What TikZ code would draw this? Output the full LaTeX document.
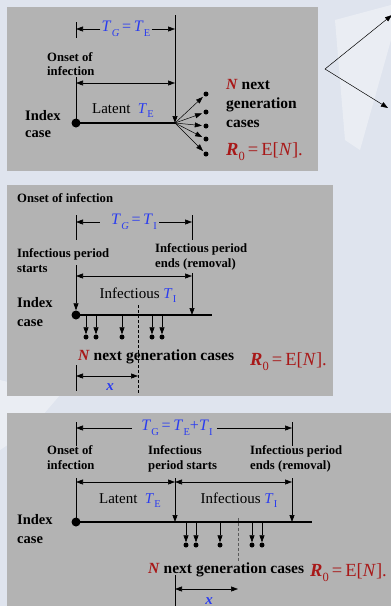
\documentclass[tikz,border=0pt]{standalone}
\usepackage{fontspec}
\setmainfont{Liberation Serif}
\usetikzlibrary{arrows.meta}
\definecolor{bgc}{HTML}{DFE4EE}
\definecolor{panelc}{HTML}{B3B3B3}
\definecolor{tblue}{HTML}{2A3CF0}
\definecolor{dred}{HTML}{A81818}
\newcommand\TT[1]{\textit{T}\kern0.3pt\raisebox{-0.28em}{\fontsize{10.5}{10.5}\selectfont #1}}
\newcommand\Rnull{\textcolor{dred}{\textbf{\textit{R}}\raisebox{-0.3em}{\fontsize{12.5}{12.5}\selectfont 0}\,=\,E[\textit{N}].}}
\newcommand\Nnext{\textcolor{dred}{\textit{N}}}
\begin{document}
\begin{tikzpicture}[x=1pt,y=-1pt,
  lbl/.style={font=\fontsize{12.7}{13}\selectfont\bfseries, inner sep=0pt, anchor=base west},
  idx/.style={font=\fontsize{14.5}{16}\selectfont\bfseries, inner sep=0pt, anchor=base west},
  nxt/.style={font=\fontsize{15.5}{16}\selectfont\bfseries, inner sep=0pt, anchor=base west},
  reg/.style={font=\fontsize{15}{16}\selectfont, inner sep=0pt, anchor=base},
  tg/.style={font=\fontsize{16}{17}\selectfont, text=tblue, inner sep=0pt},
  rr/.style={font=\fontsize{18.5}{19}\selectfont, inner sep=0pt, anchor=base west},
  xl/.style={font=\fontsize{15}{16}\selectfont\bfseries\itshape, text=tblue, inner sep=0pt, anchor=base},
  dim/.style={{Triangle[length=7pt,width=5pt]}-{Triangle[length=7pt,width=5pt]}, line width=0.6pt},
  half/.style={-{Triangle[length=7pt,width=5pt]}, line width=0.6pt},
  vline/.style={line width=0.7pt},
  varr/.style={-{Triangle[length=7pt,width=5pt]}, line width=0.7pt},
  tline/.style={line width=2pt},
  sdot/.style={circle, fill=black, inner sep=0pt, minimum size=5pt},
  bdot/.style={circle, fill=black, inner sep=0pt, minimum size=9pt},
  dash1/.style={line width=0.6pt, dash pattern=on 3pt off 2pt}
]
\useasboundingbox (0,0) rectangle (391,606);
\clip (0,0) rectangle (391,606);
\fill[bgc] (0,0) rectangle (391,606);
\fill[white, opacity=0.35] (335,20) -- (391,5) -- (391,40) -- (360,150) -- (345,140) -- cycle;
\fill[white, opacity=0.35] (0,380) -- (60,395) -- (30,430) -- (0,450) -- cycle;

% ===== Panel 1 =====
\fill[panelc] (7,7) rectangle (318,171);
\coordinate (p1a) at (76,22); \coordinate (p1b) at (76,38);
\draw[vline] (p1a) -- (p1b);
\coordinate (p1c) at (76,77);
\node[bdot] (I1) at (76,123) {};
\draw[vline] (p1c) -- (I1.center);
\coordinate (q1a) at (175,15); \coordinate (q1b) at (175,123);
\draw[tline] (I1.center) -- (q1b);
\draw[varr] (q1a) -- (q1b);
\node[tg] (TG1) at (126,29) {\TT{\textit{G}}\,=\,\TT{E}};
\coordinate (d1l) at (76,29); \coordinate (d1r) at (175,29);
\draw[half] ([xshift=-1pt]TG1.west |- d1l) -- (d1l);
\draw[half] ([xshift=1pt]TG1.east |- d1r) -- (d1r);
\coordinate (e1l) at (76,83); \coordinate (e1r) at (175,83);
\draw[dim] (e1l) -- (e1r);
\node[reg] (lat1) at (123,113) {Latent\ \ \textcolor{tblue}{\TT{E}}};
\node[lbl] (on1a) at (47,61) {Onset of};
\node[lbl] (on1b) at (47,75) {infection};
\node[idx] (ix1a) at (25,120) {Index};
\node[idx] (ix1b) at (25,137) {case};
\foreach \i/\yy in {1/94,2/112,3/126,4/139,5/154}{
  \node[sdot] (f\i) at (206,\yy) {};
  \draw[varr, line width=0.5pt, shorten >=1.5pt] (q1b) -- (f\i);
}
\node[nxt] (n1a) at (226,89) {\Nnext\ next};
\node[nxt] (n1b) at (226,108) {generation};
\node[nxt] (n1c) at (226,127) {cases};
\node[rr] (r1) at (226,155) {\Rnull};
% side arrows
\coordinate (v0) at (325,69); \coordinate (v1) at (392,15); \coordinate (v2) at (388,108);
\draw[varr, line width=0.5pt] (v0) -- (v1);
\draw[varr, line width=0.5pt] (v0) -- (v2);

% ===== Panel 2 =====
\fill[panelc] (7,185) rectangle (333,396);
\node[lbl] (on2) at (17,202) {Onset of infection};
\coordinate (p2a) at (76,215); \coordinate (p2b) at (76,240);
\coordinate (q2a) at (192,215); \coordinate (q2b) at (192,240);
\draw[vline] (p2a) -- (p2b);
\draw[vline] (q2a) -- (q2b);
\node[tg] (TG2) at (134,222) {\TT{\textit{G}}\,=\,\TT{I}};
\coordinate (d2l) at (76,222); \coordinate (d2r) at (192,222);
\draw[half] ([xshift=-11pt]TG2.west |- d2l) -- (d2l);
\draw[half] ([xshift=2pt]TG2.east |- d2r) -- (d2r);
\node[lbl] (st2a) at (17,257) {Infectious period};
\node[lbl] (st2b) at (17,272) {starts};
\node[lbl] (en2a) at (155,252) {Infectious period};
\node[lbl] (en2b) at (155,267) {ends (removal)};
\node[bdot] (I2) at (76,315) {};
\coordinate (p2c) at (76,265);
\draw[varr] (p2c) -- (I2);
\coordinate (q2c) at (192,273); \coordinate (q2d) at (192,315);
\coordinate (t2e) at (212,315);
\draw[tline] (I2.center) -- (t2e);
\draw[varr] (q2c) -- (q2d);
\coordinate (e2l) at (76,276); \coordinate (e2r) at (192,276);
\draw[dim] (e2l) -- (e2r);
\node[reg] (inf2) at (138,298) {Infectious \textcolor{tblue}{\TT{I}}};
\coordinate (x2a) at (138,305); \coordinate (x2b) at (138,393);
\draw[dash1] (x2a) -- (x2b);
\node[idx] (ix2a) at (17,307) {Index};
\node[idx] (ix2b) at (17,326) {case};
\foreach \i/\xx in {1/86,2/96,3/122,4/152,5/162}{
  \coordinate (g\i) at (\xx,315);
  \node[sdot] (h\i) at (\xx,337) {};
  \draw[varr, line width=0.6pt] (g\i) -- (h\i);
}
\node[nxt] (n2) at (78,360) {\Nnext\ next generation cases};
\node[rr] (r2) at (250,365) {\Rnull};
\coordinate (k2a) at (76,365); \coordinate (k2b) at (76,391);
\draw[vline] (k2a) -- (k2b);
\coordinate (m2l) at (76,376); \coordinate (m2r) at (138,376);
\draw[dim] (m2l) -- (m2r);
\node[xl] (x2) at (110,390) {x};

% ===== Panel 3 =====
\fill[panelc] (7,413) rectangle (391,606);
\coordinate (p3a) at (76,422); \coordinate (p3b) at (76,446);
\coordinate (q3a) at (292,422); \coordinate (q3b) at (292,446);
\draw[vline] (p3a) -- (p3b);
\draw[vline] (q3a) -- (q3b);
\node[tg] (TG3) at (177,428) {\TT{G}\,=\,\TT{E}+\TT{I}};
\coordinate (d3l) at (76,428); \coordinate (d3r) at (292,428);
\draw[half] ([xshift=-9pt]TG3.west |- d3l) -- (d3l);
\draw[half] ([xshift=4pt]TG3.east |- d3r) -- (d3r);
\node[lbl] (on3a) at (47,454) {Onset of};
\node[lbl] (on3b) at (47,469) {infection};
\node[lbl] (st3a) at (148,454) {Infectious};
\node[lbl] (st3b) at (148,469) {period starts};
\node[lbl] (en3a) at (250,454) {Infectious period};
\node[lbl] (en3b) at (250,469) {ends (removal)};
\node[bdot] (I3) at (76,522) {};
\coordinate (p3c) at (76,478);
\coordinate (s3a) at (175,478); \coordinate (s3b) at (175,522);
\coordinate (q3c) at (292,478); \coordinate (q3d) at (292,522);
\coordinate (t3e) at (312,522);
\draw[tline] (I3.center) -- (t3e);
\draw[vline] (p3c) -- (I3.center);
\draw[varr] (s3a) -- (s3b);
\draw[varr] (q3c) -- (q3d);
\coordinate (e3l) at (76,482); \coordinate (e3m) at (175,482); \coordinate (e3r) at (292,482);
\draw[dim] (e3l) -- (e3m);
\draw[dim] (e3m) -- (e3r);
\node[reg] (lat3) at (130,503) {Latent\ \ \textcolor{tblue}{\TT{E}}};
\node[reg] (inf3) at (239,503) {Infectious \textcolor{tblue}{\TT{I}}};
\node[idx] (ix3a) at (17,524) {Index};
\node[idx] (ix3b) at (17,543) {case};
\coordinate (x3a) at (238,518); \coordinate (x3b) at (238,563);
\draw[dash1, draw=gray!70!black] (x3a) -- (x3b);
\foreach \i/\xx in {1/186,2/196,3/220,4/252,5/262}{
  \coordinate (u\i) at (\xx,522);
  \node[sdot] (w\i) at (\xx,545) {};
  \draw[varr, line width=0.6pt] (u\i) -- (w\i);
}
\node[nxt] (n3) at (148,573) {\Nnext\ next generation cases};
\node[rr] (r3) at (310,576) {\Rnull};
\coordinate (k3a) at (175,575); \coordinate (k3b) at (175,606);
\draw[vline] (k3a) -- (k3b);
\coordinate (m3l) at (175,589); \coordinate (m3r) at (238,589);
\draw[dim] (m3l) -- (m3r);
\node[xl] (x3) at (209,604) {x};
\end{tikzpicture}
\end{document}
